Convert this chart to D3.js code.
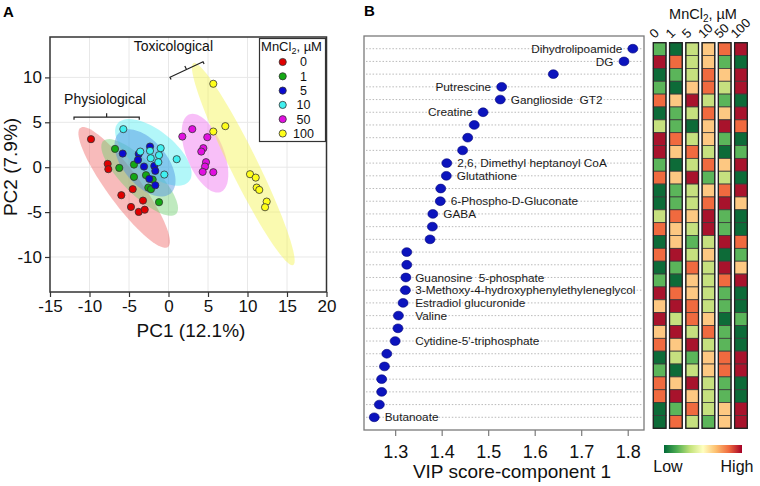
<!DOCTYPE html>
<html>
<head>
<meta charset="utf-8">
<script src="https://cdn.jsdelivr.net/npm/d3@7"></script>
<style>
body { margin: 0; background: #fff; }
svg { font-family: "Liberation Sans", Arial, sans-serif; }
</style>
</head>
<body>
<svg width="760" height="486"></svg>
<script>
// ---- panel A data: PCA scores per MnCl2 dose ----
var doses = [0, 1, 5, 10, 50, 100];
var doseColors = ["#e00000", "#14a814", "#0a0ad0", "#40f0f0", "#e010e0", "#ffff1a"];
var ellColors = ["#f06868", "#70d070", "#4a8ee0", "#55eef2", "#f070f0", "#f5f550"];

var pc1 = [
  [-9.81, -7.70, -7.62, -4.53, -5.97, -3.23, -4.75, -3.77, -3.01],
  [-6.77, -6.23, -4.37, -4.37, -2.85, -2.00, -2.56, -2.22, -1.20],
  [-5.80, -3.77, -2.34, -3.86, -3.10, -1.80, -1.67, -2.43, -1.67],
  [-5.72, -3.57, -2.34, -0.99, -1.20, -2.25, -1.29, -0.53, 1.04],
  [1.75, 3.01, 4.91, 4.41, 4.15, 4.75, 4.62, 4.33, 5.67],
  [5.67, 5.67, 7.19, 10.32, 11.04, 11.16, 11.49, 12.43, 12.22]
];
var pc2 = [
  [3.12, 0.37, -0.22, -2.45, -3.12, -3.72, -4.43, -4.98, -4.73],
  [2.04, -0.08, 0.29, -1.08, -0.89, -1.38, -2.27, -2.45, -3.90],
  [1.52, 1.48, 2.30, 0.81, 0.07, 0.14, -0.41, -1.30, -2.01],
  [4.24, 1.74, 1.82, 2.12, 1.34, 1.00, 0.56, -0.82, 0.89],
  [3.41, 4.24, 3.34, 2.12, 1.74, 0.56, 0.07, -0.52, -0.56],
  [9.29, 3.97, 4.57, -0.78, -1.16, -2.27, -2.53, -3.83, -4.46]
];

// confidence ellipses: centre, end of major axis, minor half-axis (PC units)
var ellCx = [-5.61, -3.65, -2.97, -1.92, 4.62, 9.47];
var ellCy = [-2.25, -1.14, 0.48, 1.65, 1.56, 0.35];
var ellTipX = [-11.20, -8.33, -6.39, -6.56, 2.51, 3.14];
var ellTipY = [4.35, 2.85, 3.71, 4.72, 5.83, 11.59];
var ellMinor = [2.0, 2.0, 2.6, 2.5, 2.3, 1.7];
var ellOrder = [0, 1, 3, 2, 4, 5];

var xTicksA = [-15, -10, -5, 0, 5, 10, 15, 20];
var yTicksA = [-10, -5, 0, 5, 10];

// ---- panel B data: VIP scores ----
var vipNames = ["Dihydrolipoamide", "DG", "", "Putrescine", "Ganglioside  GT2", "Creatine", "", "", "",
  "2,6, Dimethyl heptanoyl CoA", "Glutathione", "", "6-Phospho-D-Gluconate", "GABA", "", "", "", "",
  "Guanosine  5-phosphate", "3-Methoxy-4-hydroxyphenylethyleneglycol", "Estradiol glucuronide", "Valine", "",
  "Cytidine-5'-triphosphate", "", "", "", "", "", "Butanoate"];
var vipScores = [1.811, 1.792, 1.640, 1.529, 1.526, 1.489, 1.470, 1.456, 1.445, 1.411,
  1.410, 1.398, 1.397, 1.381, 1.380, 1.375, 1.325, 1.325, 1.323, 1.322,
  1.317, 1.307, 1.306, 1.300, 1.282, 1.277, 1.271, 1.271, 1.266, 1.255];
// L = label left of dot, R = right of dot, C = right, in aligned column
var labelSide = ["L", "L", "", "L", "R", "L", "", "", "", "R", "R", "", "R", "R", "", "", "", "",
  "C", "C", "C", "C", "", "C", "", "", "", "", "", "R"];
var xTicksB = [1.3, 1.4, 1.5, 1.6, 1.7, 1.8];

// heatmap: relative level (1 = lowest ... 6 = highest) per metabolite and dose
var heatLevels = [
  [2,1,3,4,5,6], [6,5,3,4,2,1], [1,2,3,5,4,6], [2,1,4,5,3,6], [5,4,6,3,2,1],
  [1,2,3,5,4,6], [3,2,1,4,6,5], [6,5,3,4,2,1], [6,4,5,3,1,2], [2,1,3,5,4,6],
  [5,4,6,2,3,1], [1,2,3,4,5,6], [1,2,3,5,6,4], [3,5,4,6,2,1], [5,4,3,6,2,1],
  [1,4,2,3,6,5], [5,6,3,4,1,2], [1,2,5,3,6,4], [2,1,4,3,5,6], [6,5,4,3,2,1],
  [4,6,5,3,2,1], [6,3,5,4,1,2], [4,6,3,5,2,1], [5,4,6,3,2,1], [1,3,2,4,5,6],
  [2,1,3,4,5,6], [5,4,6,3,2,1], [5,6,4,3,2,1], [1,2,5,3,4,6], [1,5,3,2,4,6]
];
var levelColors = ["#0d6b38", "#5bb55a", "#c6e07f", "#fdc882", "#f06a3f", "#a8132c"];
var gradientColors = ["#006837", "#4fae52", "#c2e27a", "#ffffc0", "#fdbf6f", "#f06a3f", "#a50026"];

var svg = d3.select("svg");
var plain = function(d) { return String(d); };   // keep ASCII hyphen for negatives

// =================== Panel A ===================
var xA = d3.scaleLinear().domain([-15, 20]).range([50, 326.5]);
var yA = d3.scaleLinear().domain([-13.9, 14.5]).range([292, 37]);

svg.append("text").attr("x", 3).attr("y", 17)
  .attr("font-size", 15).attr("font-weight", "bold").text("A");

var gA = svg.append("g");

// grid
gA.selectAll(".vgrid").data(xTicksA.slice(1, -1)).enter().append("line")
  .attr("x1", function(d) { return xA(d); }).attr("x2", function(d) { return xA(d); })
  .attr("y1", 37).attr("y2", 292)
  .attr("stroke", "#e8e8e8").attr("stroke-width", 1);
gA.selectAll(".hgrid").data(yTicksA).enter().append("line")
  .attr("y1", function(d) { return yA(d); }).attr("y2", function(d) { return yA(d); })
  .attr("x1", 50).attr("x2", 326.5)
  .attr("stroke", "#e8e8e8").attr("stroke-width", 1);

// ellipses
function ellipsePoints(i) {
  var cx = ellCx[i], cy = ellCy[i];
  var ux = ellTipX[i] - cx, uy = ellTipY[i] - cy;
  var len = Math.hypot(ux, uy);
  var vx = -uy / len * ellMinor[i], vy = ux / len * ellMinor[i];
  return d3.range(80).map(function(k) {
    var t = k / 80 * 2 * Math.PI;
    return [cx + Math.cos(t) * ux + Math.sin(t) * vx, cy + Math.cos(t) * uy + Math.sin(t) * vy];
  });
}
var ellLine = d3.line()
  .x(function(d) { return xA(d[0]); })
  .y(function(d) { return yA(d[1]); })
  .curve(d3.curveLinearClosed);

gA.selectAll(".ell").data(ellOrder).enter().append("path")
  .attr("d", function(i) { return ellLine(ellipsePoints(i)); })
  .attr("fill", function(i) { return ellColors[i]; })
  .attr("fill-opacity", 0.45)
  .attr("stroke", "none");

// points
doses.forEach(function(dose, gi) {
  gA.append("g").selectAll("circle")
    .data(d3.range(pc1[gi].length))
    .enter().append("circle")
      .attr("cx", function(k) { return xA(pc1[gi][k]); })
      .attr("cy", function(k) { return yA(pc2[gi][k]); })
      .attr("r", 3.6)
      .attr("fill", doseColors[gi])
      .attr("stroke", "#333")
      .attr("stroke-width", 0.8);
});

// brackets + annotation text
var annotations = [
  { text: "Physiological", x1: -11.96, y1: 5.57, x2: -3.70, y2: 5.57, tx: -8.04, ty: 7.06 },
  { text: "Toxicological", x1: 0.19, y1: 10.01, x2: 4.37, y2: 11.74, tx: 0.61, ty: 12.96 }
];
annotations.forEach(function(a) {
  var p1 = [xA(a.x1), yA(a.y1)], p2 = [xA(a.x2), yA(a.y2)];
  var dx = p2[0] - p1[0], dy = p2[1] - p1[1], L = Math.hypot(dx, dy);
  var nx = dy / L, ny = -dx / L;
  var m = [(p1[0] + p2[0]) / 2, (p1[1] + p2[1]) / 2];
  var path = "M" + (p1[0] - nx * 2.5) + "," + (p1[1] - ny * 2.5) +
    "L" + p1[0] + "," + p1[1] + "L" + p2[0] + "," + p2[1] +
    "L" + (p2[0] - nx * 2.5) + "," + (p2[1] - ny * 2.5) +
    "M" + m[0] + "," + m[1] + "L" + (m[0] + nx * 4) + "," + (m[1] + ny * 4);
  gA.append("path").attr("d", path).attr("fill", "none")
    .attr("stroke", "#222").attr("stroke-width", 1.2);
  gA.append("text").attr("x", xA(a.tx)).attr("y", yA(a.ty))
    .attr("text-anchor", "middle").attr("font-size", 14).attr("fill", "#111")
    .text(a.text);
});

// frame
gA.append("rect").attr("x", 50).attr("y", 37).attr("width", 276.5).attr("height", 255)
  .attr("fill", "none").attr("stroke", "#333").attr("stroke-width", 1.5);

// axes
var axA = gA.append("g").attr("transform", "translate(0,292)")
  .call(d3.axisBottom(xA).tickValues(xTicksA).tickSize(5).tickFormat(plain));
var ayA = gA.append("g").attr("transform", "translate(50,0)")
  .call(d3.axisLeft(yA).tickValues(yTicksA).tickSize(5).tickFormat(plain));
[axA, ayA].forEach(function(ax) {
  ax.select(".domain").remove();
  ax.selectAll("line").attr("stroke", "#333").attr("stroke-width", 1.2);
  ax.selectAll("text").attr("font-size", 17).attr("fill", "#111")
    .attr("font-family", "'Liberation Sans', Arial, sans-serif");
});
axA.selectAll("text").attr("y", 6).attr("dy", "0.8em");
ayA.selectAll("text").attr("x", -8);

svg.append("text").attr("x", 191).attr("y", 337).attr("text-anchor", "middle")
  .attr("font-size", 19).attr("fill", "#111").text("PC1 (12.1%)");
svg.append("text").attr("transform", "translate(17,167) rotate(-90)")
  .attr("text-anchor", "middle").attr("font-size", 19).attr("fill", "#111").text("PC2 (7.9%)");

// legend
var leg = svg.append("g");
leg.append("rect").attr("x", 259.5).attr("y", 38.5).attr("width", 66).attr("height", 103)
  .attr("fill", "#fff").attr("stroke", "#333").attr("stroke-width", 1.2);
var lt = leg.append("text").attr("x", 291.5).attr("y", 51).attr("text-anchor", "middle")
  .attr("font-size", 13).attr("fill", "#111");
lt.append("tspan").text("MnCl");
lt.append("tspan").attr("font-size", 9).attr("dy", 3).text("2");
lt.append("tspan").attr("dy", -3).text(", \u00b5M");
doses.forEach(function(d, i) {
  var y = 62 + i * 14.3;
  leg.append("circle").attr("cx", 282.7).attr("cy", y).attr("r", 3.6)
    .attr("fill", doseColors[i]).attr("stroke", "#333").attr("stroke-width", 0.8);
  leg.append("text").attr("x", 303.5).attr("y", y + 4.3).attr("text-anchor", "middle")
    .attr("font-size", 12.5).attr("fill", "#111").text(d);
});

// =================== Panel B ===================
svg.append("text").attr("x", 364).attr("y", 16)
  .attr("font-size", 15).attr("font-weight", "bold").text("B");

var xB = d3.scaleLinear().domain([1.233, 1.835]).range([364, 644]);
var yB = d3.scalePoint().domain(d3.range(vipScores.length)).range([36, 430]).padding(1);
var gB = svg.append("g");

gB.selectAll(".row").data(vipScores).enter().append("line")
  .attr("x1", 366).attr("x2", 642)
  .attr("y1", function(d, i) { return yB(i); }).attr("y2", function(d, i) { return yB(i); })
  .attr("stroke", "#a8a8a8").attr("stroke-width", 0.8).attr("stroke-dasharray", "1.5,1.8");

gB.append("rect").attr("x", 364).attr("y", 36).attr("width", 280).attr("height", 394)
  .attr("fill", "none").attr("stroke", "#7a7a7a").attr("stroke-width", 1.3);

gB.selectAll(".dot").data(vipScores).enter().append("ellipse")
  .attr("cx", function(d) { return xB(d); })
  .attr("cy", function(d, i) { return yB(i); })
  .attr("rx", 5).attr("ry", 4.4)
  .attr("fill", "#0c14bd").attr("stroke", "#06087a").attr("stroke-width", 0.6);

gB.selectAll(".lab").data(vipNames).enter().filter(function(d) { return d !== ""; })
  .append("text")
  .attr("x", function(d) {
    var i = vipNames.indexOf(d), xd = xB(vipScores[i]);
    if (labelSide[i] === "L") return xd - 10.5;
    if (labelSide[i] === "C") return xB(1.343);
    return xd + 10.5;
  })
  .attr("y", function(d) { return yB(vipNames.indexOf(d)) + 4.2; })
  .attr("text-anchor", function(d) { return labelSide[vipNames.indexOf(d)] === "L" ? "end" : "start"; })
  .attr("font-size", 11.8).attr("fill", "#1a1a1a")
  .attr("xml:space", "preserve")
  .text(function(d) { return d; });

var axB = gB.append("g").attr("transform", "translate(0,430)")
  .call(d3.axisBottom(xB).tickValues(xTicksB).tickSize(6).tickFormat(d3.format(".1f")));
axB.select(".domain").remove();
axB.selectAll("line").attr("stroke", "#7a7a7a").attr("stroke-width", 1.2);
axB.selectAll("text").attr("font-size", 18).attr("fill", "#111").attr("dy", "1.05em")
  .attr("font-family", "'Liberation Sans', Arial, sans-serif");

svg.append("text").attr("x", 512).attr("y", 478).attr("text-anchor", "middle")
  .attr("font-size", 19).attr("fill", "#111").text("VIP score-component 1");

// =================== Heatmap ===================
var hx = d3.scaleBand().domain(doses).range([653.3, 747.3]).paddingInner(0.22);
var hy = d3.scaleBand().domain(d3.range(heatLevels.length)).range([42.7, 428.3]);
var levelColor = d3.scaleOrdinal().domain([1, 2, 3, 4, 5, 6]).range(levelColors);
var gH = svg.append("g");

heatLevels.forEach(function(row, ri) {
  gH.append("g").selectAll("rect").data(row).enter().append("rect")
    .attr("x", function(v, ci) { return hx(doses[ci]); })
    .attr("y", hy(ri))
    .attr("width", hx.bandwidth()).attr("height", hy.bandwidth())
    .attr("fill", function(v) { return levelColor(v); })
    .attr("stroke", "#3a3a3a").attr("stroke-width", 0.8);
});
gH.selectAll(".col").data(doses).enter().append("rect")
  .attr("x", function(d) { return hx(d); }).attr("y", 42.7)
  .attr("width", hx.bandwidth()).attr("height", 428.3 - 42.7)
  .attr("fill", "none").attr("stroke", "#222").attr("stroke-width", 1.3);

var ht = svg.append("text").attr("x", 703).attr("y", 19).attr("text-anchor", "middle")
  .attr("font-size", 14.5).attr("fill", "#111");
ht.append("tspan").text("MnCl");
ht.append("tspan").attr("font-size", 10).attr("dy", 3).text("2");
ht.append("tspan").attr("dy", -3).text(", \u00b5M");

gH.selectAll(".clab").data(doses).enter().append("text")
  .attr("transform", function(d) {
    return "translate(" + (hx(d) + hx.bandwidth() / 2 - 5) + ",39) rotate(-45)";
  })
  .attr("font-size", 13).attr("fill", "#111").text(function(d) { return d; });

// colour key
var defs = svg.append("defs");
var grad = defs.append("linearGradient").attr("id", "heatGrad");
grad.selectAll("stop").data(gradientColors).enter().append("stop")
  .attr("offset", function(d, i) { return (i / (gradientColors.length - 1) * 100) + "%"; })
  .attr("stop-color", function(d) { return d; });
svg.append("rect").attr("x", 664).attr("y", 445).attr("width", 78).attr("height", 8)
  .attr("fill", "url(#heatGrad)");
svg.append("text").attr("x", 668).attr("y", 472).attr("text-anchor", "middle")
  .attr("font-size", 16).attr("fill", "#111").text("Low");
svg.append("text").attr("x", 737).attr("y", 472).attr("text-anchor", "middle")
  .attr("font-size", 16).attr("fill", "#111").text("High");
</script>
</body>
</html>
